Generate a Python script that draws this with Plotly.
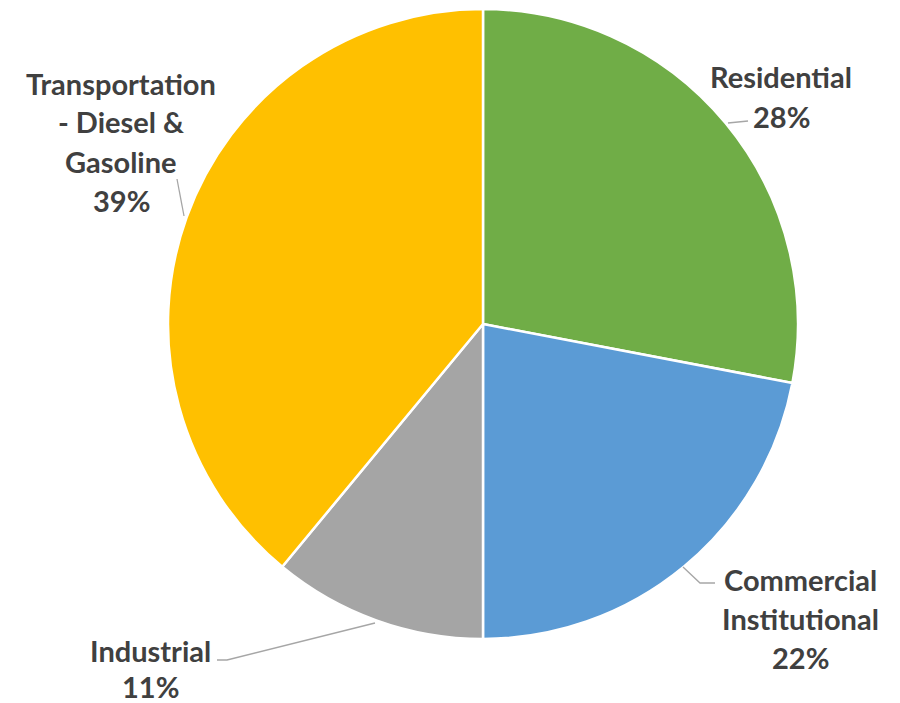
import plotly.graph_objects as go

categories = ["Residential", "Commercial Institutional", "Industrial", "Transportation - Diesel & Gasoline"]
values = [28, 22, 11, 39]
colors = ["#70AD47", "#5B9BD5", "#A5A5A5", "#FFC000"]
label_lines = [
    ["Residential", "28%"],
    ["Commercial", "Institutional", "22%"],
    ["Industrial", "11%"],
    ["Transportation", "- Diesel &", "Gasoline", "39%"],
]

W, H = 900, 703
FONT = "Lato"
TXT = "#404040"

def px(x):
    return x / W

def py(y):
    return 1 - y / H

fig = go.Figure(go.Pie(
    labels=categories, values=values, sort=False, direction="clockwise", rotation=0,
    marker=dict(colors=colors, line=dict(color="white", width=2.5)),
    textinfo="none", hoverinfo="label+percent", showlegend=False,
    domain=dict(x=[px(168), px(798)], y=[py(639), py(9)]),
))

# label placement (centre x, first-line y, line spacing) in pixels
label_pos = [(781, 77, 39), (800, 579, 39), (150, 650, 36), (121, 83, 39)]
annotations = []
for lines, (cx, cy, dy) in zip(label_lines, label_pos):
    for i, t in enumerate(lines):
        annotations.append(dict(
            x=px(cx), y=py(cy + i * dy), xref="paper", yref="paper",
            text=f"<b>{t}</b>", showarrow=False, xanchor="center", yanchor="middle",
            font=dict(family=FONT, size=29, color=TXT)))

leaders = [
    [(728, 123), (748, 121)],
    [(683, 567), (700, 583), (715, 583)],
    [(375, 623), (227, 660), (217, 660)],
    [(184, 216), (177, 179)],
]
shapes = []
for pts in leaders:
    path = "M " + " L ".join(f"{px(x)},{py(y)}" for x, y in pts)
    shapes.append(dict(type="path", path=path, xref="paper", yref="paper",
                       line=dict(color="#A6A6A6", width=1.3)))

fig.update_layout(
    width=W, height=H, margin=dict(l=0, r=0, t=0, b=0),
    paper_bgcolor="white", plot_bgcolor="white",
    annotations=annotations, shapes=shapes,
)
fig.write_html("out.html", config={"displayModeBar": False},
               post_script="document.body.style.margin='0';document.body.style.overflow='hidden';")
